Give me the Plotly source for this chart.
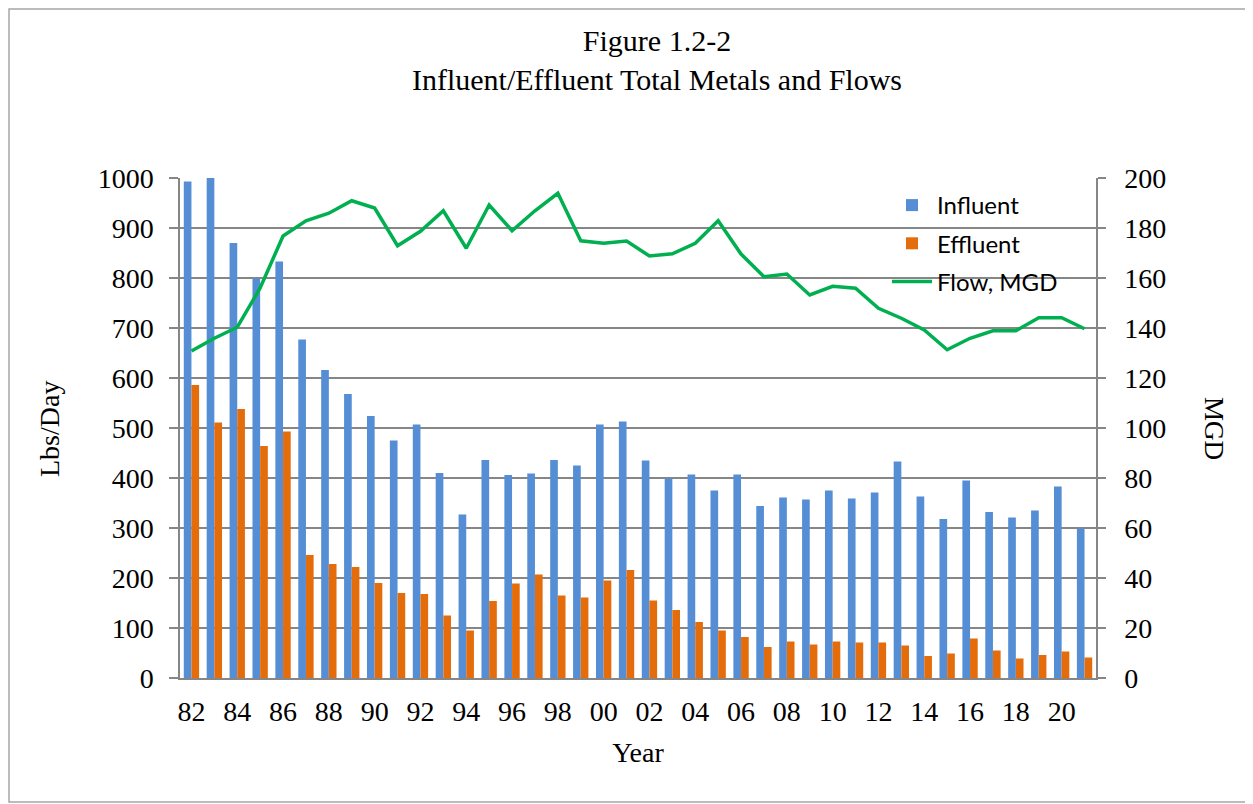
import plotly.graph_objects as go

years = ["82","83","84","85","86","87","88","89","90","91","92","93","94","95","96","97","98","99",
         "00","01","02","03","04","05","06","07","08","09","10","11","12","13","14","15","16","17",
         "18","19","20","21"]
influent = [993,1000,870,799,833,677,616,568,524,475,507,410,327,436,406,409,436,425,
            507,513,435,399,407,375,407,344,361,357,375,359,371,433,363,318,395,332,
            321,335,383,299]
effluent = [586,511,538,464,493,246,228,222,190,170,168,125,95,154,189,207,165,161,
            195,216,155,136,112,95,82,62,73,67,73,71,71,65,44,49,79,55,
            39,46,53,41]
flow_mgd = [130.8,135.9,140.3,156,176.8,182.9,185.9,190.9,188,172.9,178.7,186.9,171.9,189.2,
            178.9,186.9,193.9,174.9,173.9,174.8,168.8,169.7,173.9,182.9,169.6,160.5,161.6,
            153.2,156.7,155.9,147.9,143.9,139.2,131.3,135.9,138.9,138.9,144.1,144.1,139.7]
tick_years = years[::2]

# page body has an 8px margin; figure sized to fit the window
S = 8
W, H = 1253 - S, 804 - S
L, T = 180 - S, 178 - S
R = W - (1096 - S)
B = H - (678 - S)
GRID = "#868686"
SERIF = "Liberation Serif, Times New Roman, serif"

fig = go.Figure()
fig.add_trace(go.Bar(x=years, y=influent, name="Influent", marker_color="#558ED5",
                     marker_line_width=0, legendgroup="a"))
fig.add_trace(go.Bar(x=years, y=effluent, name="Effluent", marker_color="#E46C0A",
                     marker_line_width=0, legendgroup="b"))
fig.add_trace(go.Scatter(x=years, y=flow_mgd, name="Flow, MGD", mode="lines", yaxis="y2",
                         line=dict(color="#00B050", width=3.5), legendgroup="c"))

pw = W - L - R
ph = H - T - B
def px_x(sx):
    return (sx - S - L) / pw
def px_y(sy):
    return (H - B - (sy - S)) / ph

fig.update_layout(
    width=W, height=H,
    margin=dict(l=L, r=R, t=T, b=B),
    plot_bgcolor="white", paper_bgcolor="white",
    barmode="group", bargap=0.33, bargroupgap=0,
    font=dict(family=SERIF, size=28, color="black"),
    title=dict(text="Figure 1.2-2<br>Influent/Effluent Total Metals and Flows",
               x=(657 - S) / W, xanchor="center", y=1 - 43 / H, yanchor="middle",
               font=dict(family=SERIF, size=30, color="black")),
    xaxis=dict(type="category", tickmode="array", tickvals=tick_years, ticktext=tick_years,
               showgrid=False, showline=True, linecolor=GRID, linewidth=1.5,
               ticks="", ticklabelstandoff=8, tickfont=dict(size=28),
               title=dict(text="Year", font=dict(size=28), standoff=16)),
    yaxis=dict(range=[0, 1000], dtick=100, showgrid=True, gridcolor=GRID, gridwidth=1.5,
               showline=True, linecolor=GRID, linewidth=1.5, ticks="outside", ticklen=9,
               tickcolor=GRID, tickwidth=1.5, ticklabelstandoff=10, zeroline=False,
               tickfont=dict(size=28)),
    yaxis2=dict(range=[0, 200], dtick=20, overlaying="y", side="right", showgrid=False,
                showline=True, linecolor=GRID, linewidth=1.5, ticks="outside", ticklen=8,
                tickcolor=GRID, tickwidth=1.5, ticklabelstandoff=13, zeroline=False,
                tickfont=dict(size=28)),
    legend=dict(x=px_x(887), y=px_y(183), xanchor="left", yanchor="top",
                bgcolor="rgba(0,0,0,0)", borderwidth=0, traceorder="grouped",
                tracegroupgap=4, itemwidth=40,
                font=dict(family="Lato, Open Sans, sans-serif", size=24, color="black")),
    showlegend=True,
)

fig.add_annotation(text="Lbs/Day", xref="paper", yref="paper", x=px_x(49), y=px_y(429),
                   xanchor="center", yanchor="middle",
                   textangle=-90, showarrow=False, font=dict(family=SERIF, size=28))
fig.add_annotation(text="MGD", xref="paper", yref="paper", x=px_x(1214), y=px_y(428),
                   xanchor="center", yanchor="middle",
                   textangle=90, showarrow=False, font=dict(family=SERIF, size=27))

fig.add_shape(type="rect", xref="paper", yref="paper",
              x0=px_x(S + 1), x1=px_x(1248), y0=px_y(802), y1=px_y(S + 1),
              line=dict(color="#A6A6A6", width=1.5), layer="below")

fig.write_html("out.html")
